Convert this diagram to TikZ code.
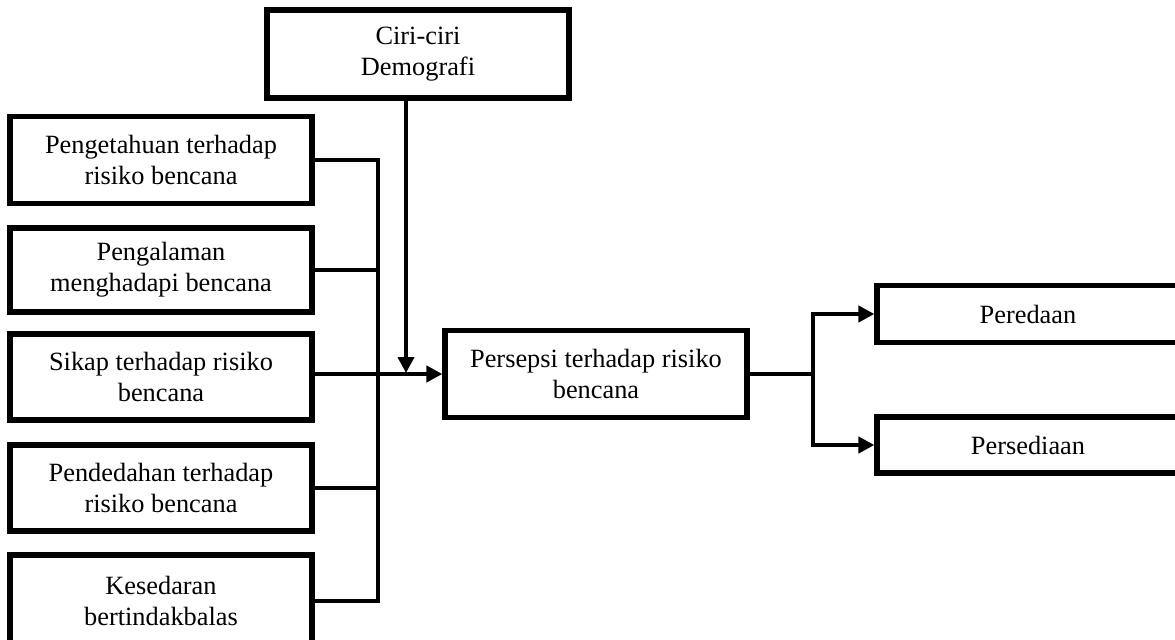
\documentclass[tikz,border=0pt]{standalone}
\usepackage{fontspec}
\setmainfont{Liberation Serif}
\usetikzlibrary{arrows.meta}

\begin{document}
\begin{tikzpicture}[x=0.02cm,y=-0.02cm,
  box/.style={draw, line width=3pt, align=center, inner sep=0pt, minimum width=6.04cm, font=\fontsize{15}{17.8}\selectfont},
  link/.style={line width=2.7pt},
  >={Triangle[length=0.32cm,width=0.32cm]}]
\clip (0,0) rectangle (1175,639);

\node[box, minimum height=1.76cm] (1) at (418,54)
{Ciri-ciri\\Demografi};

\node[box, minimum height=1.74cm] (2) at (161,160)
{Pengetahuan terhadap\\risiko bencana};

\node[box, minimum height=1.68cm] (3) at (161,270)
{Pengalaman\\menghadapi bencana};

\node[box, minimum height=1.72cm] (4) at (161,377)
{Sikap terhadap risiko\\bencana};

\node[box, minimum height=1.72cm] (5) at (161,488)
{Pendedahan terhadap\\risiko bencana};

\node[box, minimum height=1.84cm] (6) at (161,601)
{Kesedaran\\bertindakbalas};

\node[box, minimum height=1.74cm] (7) at (596,374)
{Persepsi terhadap risiko\\bencana};

\node[box, minimum height=1.14cm] (8) at (1028,314)
{Peredaan};

\node[box, minimum height=1.12cm] (9) at (1028,445)
{Persediaan};

\coordinate (bus) at (378,0);
\coordinate (down) at (406,373);
\coordinate (split) at (813,374);

% inputs into the bus
\draw[link] (2.east) -- (2.east -| bus) -- (6.east -| bus) -- (6.east);
\draw[link] (3.east) -- (3.east -| bus);
\draw[link] (5.east) -- (5.east -| bus);

\draw[link,->] (4.east |- 7.west) -- (7.west);

\draw[link,->] (1.south -| down) -- (down);

% outputs
\draw[link] (7.east) -- (split);
\draw[link,->] (split) |- (8.west);
\draw[link,->] (split) |- (9.west);
\end{tikzpicture}
\end{document}
